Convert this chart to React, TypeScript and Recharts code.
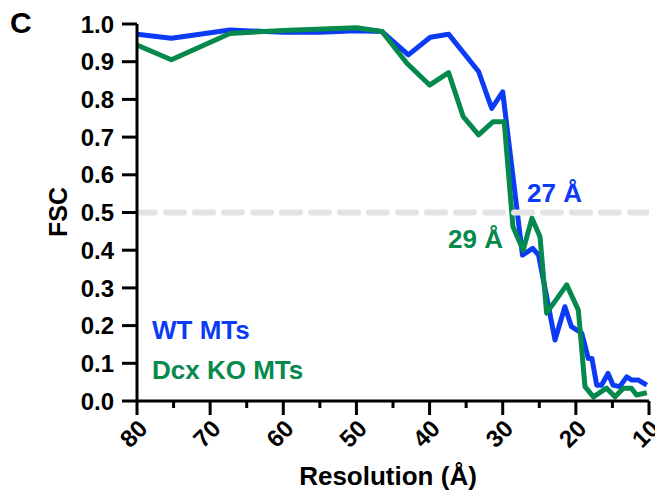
import React from "react";
import { LineChart, Line, XAxis, YAxis } from "recharts";

// ---- data ----
const wtRes = [80, 75.3, 67.3, 60, 55, 50, 46.5, 42.9, 39.9, 37.4, 33.3, 31.5, 30.0, 27.3, 25.9, 25.1, 22.85, 21.5, 20.6, 19.2, 18.3, 17.8, 17.15, 16.5, 15.6, 14.9, 14.0, 13.05, 12.4, 11.5, 10.3];
const wtFsc = [0.973, 0.962, 0.984, 0.978, 0.978, 0.982, 0.98, 0.918, 0.965, 0.973, 0.874, 0.776, 0.82, 0.387, 0.405, 0.387, 0.162, 0.25, 0.197, 0.18, 0.113, 0.113, 0.042, 0.042, 0.073, 0.042, 0.038, 0.064, 0.056, 0.056, 0.042];
const koRes = [80, 75.3, 67.3, 60, 50, 46.5, 43.1, 40.0, 37.4, 35.4, 33.3, 31.3, 29.8, 28.6, 27.2, 26.0, 24.9, 24.0, 21.25, 19.66, 18.75, 17.6, 15.8, 14.65, 13.5, 12.4, 11.7, 10.3];
const koFsc = [0.944, 0.905, 0.975, 0.983, 0.99, 0.98, 0.896, 0.838, 0.871, 0.754, 0.706, 0.741, 0.741, 0.462, 0.4, 0.485, 0.436, 0.233, 0.308, 0.241, 0.038, 0.011, 0.034, 0.011, 0.034, 0.034, 0.016, 0.022];
const thresholdRes = [80, 10];
const thresholdFsc = [0.5, 0.5];
const xTicks = [80, 75, 70, 65, 60, 55, 50, 45, 40, 35, 30, 25, 20, 15, 10];
const yTicks = [0, 0.1, 0.2, 0.3, 0.4, 0.5, 0.6, 0.7, 0.8, 0.9, 1.0];
const seriesNames = ["WT MTs", "Dcx KO MTs"];
const annotations = ["27 Å", "29 Å"];

const wtData = wtRes.map((r, i) => ({ res: r, fsc: wtFsc[i] }));
const koData = koRes.map((r, i) => ({ res: r, fsc: koFsc[i] }));
const thrData = thresholdRes.map((r, i) => ({ res: r, fsc: thresholdFsc[i] }));

const BLUE = "#0b3bf5";
const GREEN = "#06894d";
const FONT = "'Liberation Sans', Arial, Helvetica, sans-serif";

const XTick = (props: any) => {
  const { x, y, payload } = props;
  const major = payload.value % 10 === 0;
  const ax = x + 12;
  const ay = y + 29;
  return (
    <g>
      <line x1={x} x2={x} y1={y} y2={y + (major ? 14 : 7)} stroke="#000" strokeWidth={3} />
      {major && (
        <text
          x={ax}
          y={ay}
          transform={`rotate(-45 ${ax} ${ay})`}
          textAnchor="end"
          fontFamily={FONT}
          fontWeight="bold"
          fontSize={24}
          fill="#000"
        >
          {payload.value}
        </text>
      )}
    </g>
  );
};

const YTick = (props: any) => {
  const { x, y, payload } = props;
  return (
    <g>
      <line x1={x - 15} x2={x} y1={y} y2={y} stroke="#000" strokeWidth={3} />
      <text
        x={x - 23}
        y={y}
        dy="0.36em"
        textAnchor="end"
        fontFamily={FONT}
        fontWeight="bold"
        fontSize={24}
        fill="#000"
      >
        {Number(payload.value).toFixed(1)}
      </text>
    </g>
  );
};

export default function App() {
  return (
    <div style={{ position: "absolute", left: 0, top: 0, width: 655, height: 495, background: "#fff", fontFamily: FONT }}>
      <LineChart width={655} height={495} margin={{ top: 24, right: 6, bottom: 0, left: 0 }}>
        <XAxis
          dataKey="res"
          type="number"
          domain={[10, 80]}
          reversed
          ticks={xTicks}
          interval={0}
          allowDataOverflow
          height={94}
          tickSize={0}
          tickMargin={0}
          tickLine={false}
          tick={<XTick />}
          axisLine={{ stroke: "#000", strokeWidth: 3 }}
        />
        <YAxis
          type="number"
          domain={[0, 1]}
          ticks={yTicks}
          interval={0}
          width={137}
          tickSize={0}
          tickMargin={0}
          tickLine={false}
          tick={<YTick />}
          axisLine={{ stroke: "#000", strokeWidth: 3 }}
        />
        <Line data={wtData} dataKey="fsc" stroke={BLUE} strokeWidth={5} dot={false} strokeLinejoin="round" isAnimationActive={false} />
        <Line data={koData} dataKey="fsc" stroke={GREEN} strokeWidth={5} dot={false} strokeLinejoin="round" isAnimationActive={false} />
        <Line data={thrData} dataKey="fsc" stroke="#e3e3e3" strokeWidth={6} strokeDasharray="18 11" strokeLinecap="round" dot={false} isAnimationActive={false} />
      </LineChart>
      <svg width={655} height={495} style={{ position: "absolute", left: 0, top: 0, pointerEvents: "none" }}>
        <text x={10} y={33} fontFamily={FONT} fontWeight="bold" fontSize={30} fill="#000">C</text>
        <text x={58} y={212} transform="rotate(-90 58 212)" textAnchor="middle" dy="0.36em" fontFamily={FONT} fontWeight="bold" fontSize={25} fill="#000">FSC</text>
        <text x={388} y={485} textAnchor="middle" fontFamily={FONT} fontWeight="bold" fontSize={26} fill="#000">Resolution (Å)</text>
        <text x={152} y={339} fontFamily={FONT} fontWeight="bold" fontSize={26} fill={BLUE}>{seriesNames[0]}</text>
        <text x={152} y={379} fontFamily={FONT} fontWeight="bold" fontSize={26} fill={GREEN}>{seriesNames[1]}</text>
        <text x={527} y={202} fontFamily={FONT} fontWeight="bold" fontSize={26} fill={BLUE}>{annotations[0]}</text>
        <text x={448} y={248} fontFamily={FONT} fontWeight="bold" fontSize={26} fill={GREEN}>{annotations[1]}</text>
      </svg>
    </div>
  );
}
